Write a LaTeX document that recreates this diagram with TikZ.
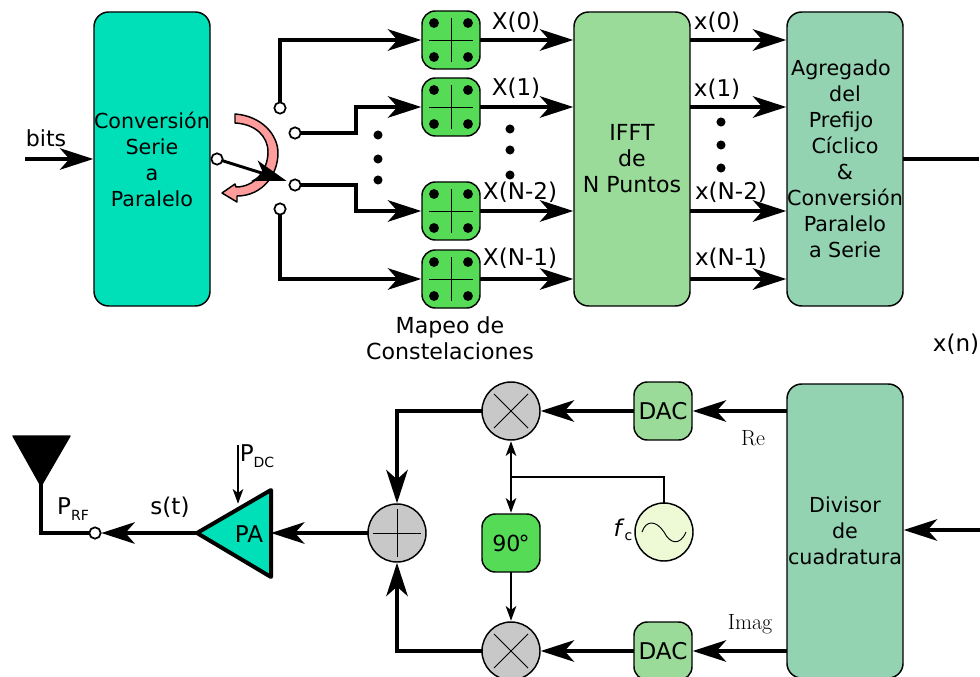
\documentclass[tikz,border=0pt]{standalone}
\usepackage{fontspec}
\setsansfont{DejaVu Sans}
\usetikzlibrary{arrows.meta}
\definecolor{teal}{HTML}{00E0B8}
\definecolor{ifftgreen}{HTML}{9BDB99}
\definecolor{sagegreen}{HTML}{93D3B1}
\definecolor{mapgreen}{HTML}{55DB55}
\definecolor{mixgray}{HTML}{C8C8C8}
\definecolor{oscgreen}{HTML}{EEFAD5}
\definecolor{pinkfill}{HTML}{FF9C9C}
\newcommand{\psub}[1]{P\raisebox{-4.5pt}{\fontsize{10.5}{10.5}\selectfont #1}}
\tikzset{>={Stealth[length=25pt,width=16pt,inset=7pt]}}
\tikzset{
  every node/.style = {font=\sffamily\fontsize{15.5}{19.5}\selectfont, inner sep=0pt, outer sep=0pt},
  biglabel/.style = {font=\sffamily\fontsize{17.3}{21}\selectfont},
  midlabel/.style = {font=\sffamily\fontsize{16.6}{19.5}\selectfont},
  serif/.style = {font=\rmfamily\fontsize{16.5}{18}\selectfont},
  bigbox/.style = {draw, line width=1.1pt, rounded corners=11pt, align=center,
    minimum width=87pt, minimum height=220.5pt},
  smallbox/.style = {draw, line width=1.1pt, rounded corners=10pt,
    minimum width=43.5pt, minimum height=43.5pt},
  mixer/.style = {draw, circle, line width=1.1pt, fill=mixgray, minimum size=43.5pt},
  port/.style = {draw, circle, line width=1.3pt, fill=white, minimum size=8.5pt},
  wire/.style = {line width=3.3pt, shorten >=0.5pt},
  thinwire/.style = {line width=1.1pt, shorten >=1pt,
    >={Stealth[length=11pt,width=8pt,inset=3pt]}},
  fineline/.style = {line width=0.7pt}
}

\begin{document}
\begin{tikzpicture}[x=0.75pt,y=-0.75pt]
  \clip (0,0) rectangle (980,677);
  \pgfmathsetmacro{\del}{17}
  \pgfmathsetmacro{\arm}{22}
  % blocks
  \node[bigbox,fill=teal] (conv) at (152,159) {Conversión\\Serie\\a\\Paralelo};
  \node[bigbox,fill=ifftgreen,midlabel] (ifft) at (632,159) {IFFT\\de\\N Puntos};
  \node[bigbox,fill=sagegreen] (cp) at (845,159)
    {\hspace*{-6pt}Agregado\\del\\\hspace*{-6pt}Prefijo\\Cíclico\\\&\\Conversión\\Paralelo\\a Serie};
  \node[bigbox,fill=sagegreen] (iq) at (845,531) {Divisor\\de\\cuadratura};
  % constellation mappers
  \foreach \name/\y in {map0/40,map1/107,map2/211,map3/279} {
    \node[smallbox,fill=mapgreen] (\name) at (451,\y) {};
    \draw[fineline] (451-\arm,\y) -- (451+\arm,\y);
    \draw[fineline] (451,\y-\arm) -- (451,\y+\arm);
    \foreach \dx in {-17,17} \foreach \dy in {-17,17}
      \fill (451+\dx,\y+\dy) circle (3.7pt);
  }
  % switch
  \node[port] (swin) at (217,159) {};
  \node[port] (sw0) at (280,108) {};
  \node[port] (sw1) at (295,133) {};
  \node[port] (sw2) at (295,185) {};
  \node[port] (sw3) at (280,209) {};
  \coordinate (bend1) at (356,107);
  \coordinate (bend2) at (356,211);
  \draw[wire,->] (sw0.north) |- (map0);
  \draw[wire,->] (sw1.east) -| (bend1) -- (map1);
  \draw[wire,->] (sw2.east) -| (bend2) -- (map2);
  \draw[wire,->] (sw3.south) |- (map3);
  \draw[line width=1.1pt,line join=round,fill=pinkfill]
    (235,114) .. controls (262,116) and (278,135) .. (278,153)
    .. controls (278,175) and (262,196) .. (237,196)
    -- (237,202) -- (222,193) -- (235,184) -- (236,187)
    .. controls (255,187) and (268,170) .. (268,152)
    .. controls (268,136) and (255,124) .. (235,123) -- cycle;
  \coordinate (swtip) at (287,181);
  \draw[wire,line width=2.2pt,->] (swin) -- (swtip);
  % top arrows
  \coordinate (bitsin) at (25,159);
  \coordinate (cpout) at (980,159);
  \draw[wire,->] (bitsin) -- (conv.west |- bitsin);
  \draw[wire] (cp.east |- cpout) -- (cpout);
  \foreach \name in {map0,map1,map2,map3} {
    \draw[wire,->] (\name) -- (ifft.west |- \name);
    \draw[wire,->] (ifft.east |- \name) -- (cp.west |- \name);
  }
  % dots
  \foreach \x/\y in {378/135,378/159,378/180,510/129,510/150,510/175,721/122,721/145,721/168}
    \fill (\x,\y) circle (3.4pt);
  % labels
  \node[midlabel] (bits) at (46,138) {bits};
  \node[biglabel] (lx0) at (516,22) {X(0)};
  \node[biglabel] (lx1) at (516,88) {X(1)};
  \node[biglabel] (lx2) at (520,192) {X(N-2)};
  \node[biglabel] (lx3) at (520,258) {X(N-1)};
  \node[biglabel] (ly0) at (717,22) {x(0)};
  \node[biglabel] (ly1) at (717,89) {x(1)};
  \node[biglabel] (ly2) at (731,192) {x(N-2)};
  \node[biglabel] (ly3) at (731,258) {x(N-1)};
  \node[midlabel,align=center] (mapeo) at (450,338) {Mapeo de\\Constelaciones};
  \node[biglabel] (xn) at (956,344) {x(n)};
  % bottom row
  \node[smallbox,fill=ifftgreen,biglabel] (dac1) at (663,411) {DAC};
  \node[smallbox,fill=ifftgreen,biglabel] (dac2) at (663,651) {DAC};
  \node[mixer] (mix1) at (511,411) {};
  \node[mixer] (mix2) at (511,651) {};
  \node[mixer] (sum) at (397,533) {};
  \node[smallbox,fill=mapgreen,midlabel] (shift) at (511,543) {90\kern-1.5pt°};
  \node[draw,circle,line width=1.1pt,fill=oscgreen,minimum size=43.5pt] (osc) at (664,532) {};
  \draw[fineline] (511-\del,411-\del) -- (511+\del,411+\del);
  \draw[fineline] (511-\del,411+\del) -- (511+\del,411-\del);
  \draw[fineline] (511-\del,651-\del) -- (511+\del,651+\del);
  \draw[fineline] (511-\del,651+\del) -- (511+\del,651-\del);
  \draw[fineline] (373,533) -- (421,533);
  \draw[fineline] (397,509) -- (397,557);
  \draw[fineline] (642,532) .. controls (646,520) and (656,520) .. (664,532)
    .. controls (670,544) and (680,546) .. (686,532);
  \coordinate (iqin) at (980,530);
  \draw[wire,->] (iqin) -- (iq.east |- iqin);
  \draw[wire,->] (iq.west |- dac1) -- (dac1);
  \draw[wire,->] (iq.west |- dac2) -- (dac2);
  \draw[wire,->] (dac1) -- (mix1);
  \draw[wire,->] (dac2) -- (mix2);
  \draw[wire,->] (mix1) -| (sum);
  \draw[wire,->] (mix2) -| (sum);
  % local oscillator
  \coordinate (lojoin) at (511,477);
  \draw[thinwire,<->,shorten <=1pt] (mix1) -- (shift);
  \draw[thinwire,->] (shift) -- (mix2);
  \draw[line width=1.1pt] (osc.north) |- (lojoin);
  % amplifier and antenna
  \coordinate (patip) at (197,533);
  \coordinate (pabase) at (271,533);
  \node[port] (prf) at (95,533) {};
  \coordinate (antfoot) at (41,480);
  \coordinate (pdc) at (238,445);
  \coordinate (pdcend) at (238,505);
  \draw[wire,->,shorten >=0pt] (sum) -- (pabase);
  \draw[wire,->] (patip) -- (prf);
  \draw[wire] (prf) -| (antfoot);
  \fill[line join=round,draw,line width=1pt] (13,436) -- (70,436) -- (41,486) -- cycle;
  \draw[line width=3pt,line join=round,fill=teal] (patip) -- (271,490) -- (271,577) -- cycle;
  \draw[thinwire,->] (pdc) -- (pdcend);
  \node[biglabel] (pa) at (249,534) {PA};
  \node[biglabel] (lpdc) at (257,456) {\psub{DC}};
  \node[biglabel] (lprf) at (73,509) {\psub{RF}};
  \node[biglabel] (lst) at (170,507) {s(t)};
  \node[biglabel] (lfc) at (623,530) {\textit{f}\raisebox{-3pt}{\fontsize{10.5}{10.5}\selectfont c}};
  \node[serif] (lre) at (753,438) {Re};
  \node[serif] (lim) at (750,624) {Imag};
\end{tikzpicture}
\end{document}
